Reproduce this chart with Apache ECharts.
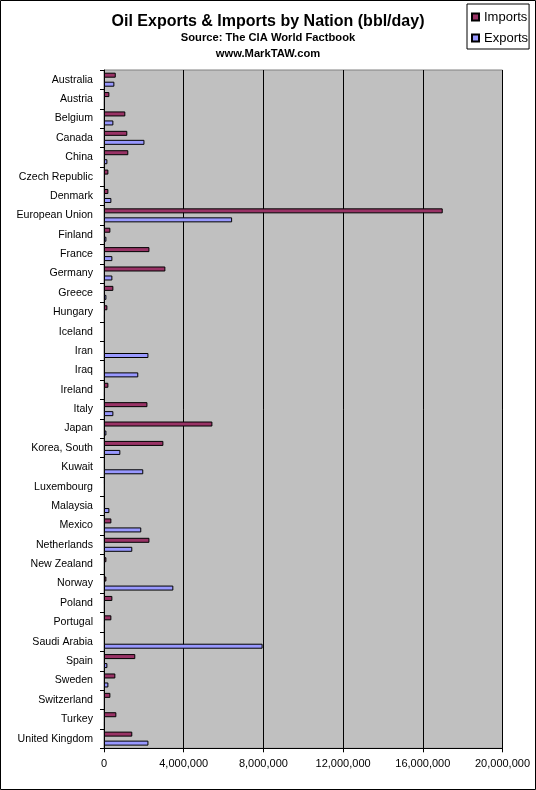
<!DOCTYPE html>
<html>
<head>
<meta charset="utf-8">
<script src="https://cdn.jsdelivr.net/npm/echarts@6/dist/echarts.min.js"></script>
<style>
html,body{margin:0;padding:0;background:#fff;}
#chart{width:536px;height:790px;}
</style>
</head>
<body>
<div id="chart"></div>
<script>
const categories = ['Australia','Austria','Belgium','Canada','China','Czech Republic','Denmark','European Union','Finland','France','Germany','Greece','Hungary','Iceland','Iran','Iraq','Ireland','Italy','Japan','Korea, South','Kuwait','Luxembourg','Malaysia','Mexico','Netherlands','New Zealand','Norway','Poland','Portugal','Saudi Arabia','Spain','Sweden','Switzerland','Turkey','United Kingdom'];
const imports = [590000,270000,1070000,1170000,1220000,220000,220000,17000000,320000,2280000,3080000,470000,170000,0,0,0,220000,2180000,5440000,2980000,0,50000,0,370000,2280000,120000,120000,420000,370000,0,1570000,570000,320000,620000,1420000];
const exportsData = [520000,50000,470000,2030000,170000,50000,370000,6430000,120000,420000,420000,120000,50000,0,2230000,1720000,50000,470000,120000,820000,1970000,0,270000,1870000,1420000,50000,3480000,50000,50000,7960000,170000,220000,0,50000,2230000];
const xTicks = [0,4000000,8000000,12000000,16000000,20000000];

const chart = echarts.init(document.getElementById('chart'), null, {renderer:'canvas'});
const font = 'Arial, "Liberation Sans", sans-serif';
const toNull = a => a.map(v => v === 0 ? null : v);
chart.setOption({
  animation:false,
  backgroundColor:'#fff',
  textStyle:{fontFamily:font},
  graphic:[{type:'rect',shape:{x:0.5,y:0.5,width:535,height:789},style:{fill:'none',stroke:'#000',lineWidth:1},z:100}],
  title:{
    text:'Oil Exports & Imports by Nation (bbl/day)',
    subtext:'Source: The CIA World Factbook\nwww.MarkTAW.com',
    left:263, top:7, textAlign:'center',
    textStyle:{fontFamily:font,fontSize:16,fontWeight:'bold',color:'#000',lineHeight:20},
    subtextStyle:{fontFamily:font,fontSize:11.2,fontWeight:'bold',color:'#000',lineHeight:16},
    itemGap:-2
  },
  legend:{
    orient:'vertical',
    left:467, top:4,
    padding:[5,1,3,4],
    itemGap:5,
    itemWidth:7, itemHeight:7,
    icon:'rect',
    borderColor:'#000', borderWidth:1,
    textStyle:{fontFamily:font,fontSize:13,color:'#000',lineHeight:16},
    data:['Imports','Exports']
  },
  grid:{left:104,right:33.5,top:70,bottom:41.7,show:true,backgroundColor:'#C0C0C0',borderColor:'#808080',borderWidth:1},
  xAxis:{
    type:'value', min:0, max:20000000, interval:4000000,
    axisLine:{show:true,lineStyle:{color:'#000',width:1}},
    axisTick:{show:true,length:4,lineStyle:{color:'#000'}},
    axisLabel:{fontFamily:font,fontSize:11,color:'#000',margin:10,formatter:v=>v.toLocaleString('en-US')},
    splitLine:{show:true,lineStyle:{color:'#000',width:1}}
  },
  yAxis:{
    type:'category', data:categories, inverse:true,
    axisLine:{show:true,lineStyle:{color:'#000',width:1}},
    axisTick:{show:true,length:4,inside:false,alignWithLabel:false,lineStyle:{color:'#000'}},
    axisLabel:{fontFamily:font,fontSize:10.6,color:'#000',margin:11,interval:0},
    splitLine:{show:false}
  },
  series:[
    {name:'Imports',type:'bar',data:toNull(imports),barWidth:5,barGap:'80%',
     itemStyle:{color:'#993366',borderColor:'#000',borderWidth:1}},
    {name:'Exports',type:'bar',data:toNull(exportsData),barWidth:5,barGap:'80%',
     itemStyle:{color:'#9999FF',borderColor:'#000',borderWidth:1}}
  ]
});
</script>
</body>
</html>
